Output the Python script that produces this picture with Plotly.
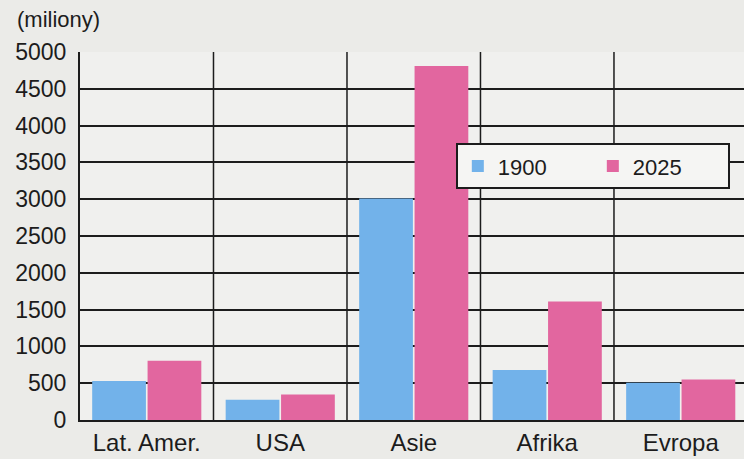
import plotly.graph_objects as go

categories = ["Lat. Amer.", "USA", "Asie", "Afrika", "Evropa"]
pop_1900 = [530, 275, 3010, 680, 505]
pop_2025 = [805, 345, 4810, 1610, 550]
y_ticks = [0, 500, 1000, 1500, 2000, 2500, 3000, 3500, 4000, 4500, 5000]

BLUE = "#72b2ea"
PINK = "#e2669f"
INK = "#1c1c1c"
FONT = "Liberation Sans, Arial, sans-serif"

fig = go.Figure()
fig.add_trace(go.Bar(name="1900", x=categories, y=pop_1900, marker=dict(color=BLUE, line=dict(width=0))))
fig.add_trace(go.Bar(name="2025", x=categories, y=pop_2025, marker=dict(color=PINK, line=dict(width=0))))

# vertical category dividers
for i in range(1, len(categories)):
    fig.add_shape(type="line", xref="x", yref="paper", x0=i - 0.5, x1=i - 0.5, y0=0, y1=1,
                  line=dict(color=INK, width=1.5), layer="below")

fig.update_layout(
    width=744, height=459,
    margin=dict(l=80, r=0, t=52, b=39, autoexpand=False),
    paper_bgcolor="#ebebe8",
    plot_bgcolor="#f0f0ee",
    font=dict(family=FONT, size=22, color=INK),
    barmode="group",
    bargap=0.17,
    bargroupgap=0.03,
    showlegend=True,
    legend=dict(
        orientation="h", x=0.566, y=0.752, xanchor="left", yanchor="top",
        bgcolor="#f5f5f3", bordercolor=INK, borderwidth=2,
        font=dict(size=22, family=FONT, color=INK),
        entrywidth=90, itemwidth=30,
    ),
    xaxis=dict(
        range=[-0.5, 4.474], showgrid=False, showline=True, linecolor=INK, linewidth=2,
        ticks="", tickfont=dict(size=24), ticklabelstandoff=0,
    ),
    yaxis=dict(
        range=[0, 5000], tickvals=y_ticks, showgrid=True, gridcolor=INK, gridwidth=1.5,
        showline=True, linecolor=INK, linewidth=2, ticks="", zeroline=False,
        tickfont=dict(size=23), ticklabelstandoff=7,
    ),
    annotations=[dict(text="(miliony)", xref="paper", yref="paper", x=-0.098, y=1.05,
                      xanchor="left", yanchor="bottom", showarrow=False,
                      font=dict(size=22, family=FONT, color=INK))],
)

fig.write_html("out.html", config={"displayModeBar": False},
               post_script="document.body.style.margin='0';")
